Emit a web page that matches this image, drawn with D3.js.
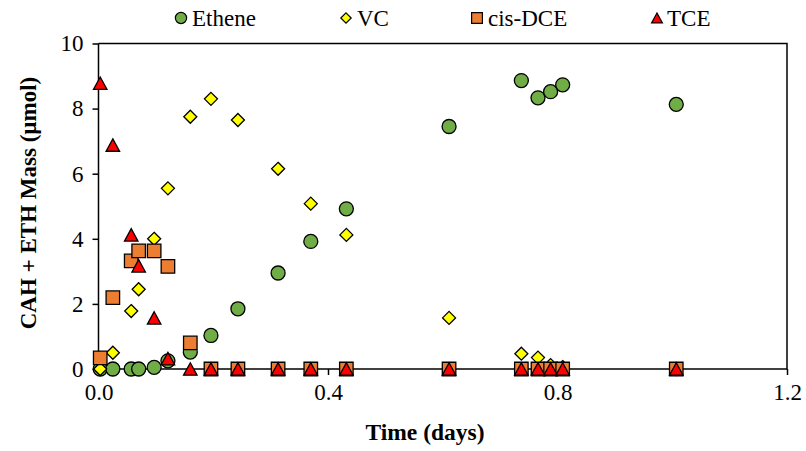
<!DOCTYPE html>
<html>
<head>
<meta charset="utf-8">
<script src="https://cdn.jsdelivr.net/npm/d3@7"></script>
<style>
  html, body { margin: 0; padding: 0; background: #fff; }
  svg { display: block; }
  text { font-family: "Liberation Serif", "Times New Roman", serif; fill: #000; }
</style>
</head>
<body>
<svg id="chart" width="806" height="451"></svg>
<script>
// ---- Data ----
const time   = [0.003, 0.025, 0.057, 0.070, 0.097, 0.121, 0.160, 0.196, 0.243, 0.313, 0.370, 0.432, 0.611, 0.737, 0.766, 0.788, 0.809, 1.007];
const ethene = [0.00, 0.00, 0.00, 0.00, 0.05, 0.25, 0.52, 1.03, 1.85, 2.95, 3.92, 4.92, 7.45, 8.86, 8.33, 8.52, 8.73, 8.13];
const vc     = [0.00, 0.50, 1.78, 2.45, 4.00, 5.55, 7.75, 8.30, 7.65, 6.15, 5.08, 4.12, 1.57, 0.47, 0.35, 0.12, 0.06, 0.00];
const cisDCE = [0.34, 2.19, 3.32, 3.63, 3.63, 3.15, 0.80, 0.00, 0.00, 0.00, 0.00, 0.00, 0.00, 0.00, 0.00, 0.00, 0.00, 0.00];
const tce    = [8.78, 6.88, 4.12, 3.17, 1.57, 0.32, 0.00, 0.00, 0.00, 0.00, 0.00, 0.00, 0.00, 0.00, 0.00, 0.00, 0.00, 0.00];
const seriesNames = ["Ethene", "VC", "cis-DCE", "TCE"];
const xTicks = [0, 0.4, 0.8, 1.2];
const yTicks = [0, 2, 4, 6, 8, 10];

// ---- Layout ----
const svg = d3.select("#chart");
const x = d3.scaleLinear().domain([0, 1.2]).range([98.5, 787]);
const y = d3.scaleLinear().domain([0, 10]).range([369, 43.5]);
const FONT = "Liberation Serif, Times New Roman, serif";

// marker shape paths centered at 0,0
const shapes = {
  circle: s => `M${s/2},0A${s/2},${s/2} 0 1,1 ${-s/2},0A${s/2},${s/2} 0 1,1 ${s/2},0Z`,
  square: s => `M${-s/2},${-s/2}H${s/2}V${s/2}H${-s/2}Z`,
  diamond: s => `M0,${-s/2}L${s/2},0L0,${s/2}L${-s/2},0Z`,
  triangle: s => `M0,${-s*0.46}L${s/2},${s*0.46}L${-s/2},${s*0.46}Z`
};
const series = [
  { name: seriesNames[0], values: ethene, shape: "circle",   size: 14,   fill: "#70AD47" },
  { name: seriesNames[1], values: vc,     shape: "diamond",  size: 13,   fill: "#FFFF00" },
  { name: seriesNames[2], values: cisDCE, shape: "square",   size: 13.5, fill: "#ED7D31" },
  { name: seriesNames[3], values: tce,    shape: "triangle", size: 13.5, fill: "#FF0000" }
];

// ---- Frame ----
svg.append("path")
  .attr("d", `M${x(0)},${y(10)}H${x(1.2)}V${y(0)}`)
  .attr("fill", "none").attr("stroke", "#000").attr("stroke-width", 1.5);

// ---- Axes ----
const yAxis = d3.axisLeft(y).tickValues(yTicks).tickSize(6).tickPadding(9).tickFormat(d3.format("d"));
const gy = svg.append("g").attr("transform", `translate(${x(0)},0)`).call(yAxis);
const xAxis = d3.axisBottom(x).tickValues(xTicks).tickSize(6).tickPadding(9).tickFormat(d3.format(".1f"));
const gx = svg.append("g").attr("transform", `translate(0,${y(0)})`).call(xAxis);
[gx, gy].forEach(g => {
  g.attr("font-family", FONT).attr("font-size", 23);
  g.select(".domain").attr("stroke", "#000").attr("stroke-width", 1.5);
  g.selectAll(".tick line").attr("stroke", "#000").attr("stroke-width", 1.5);
  g.selectAll(".tick text").attr("font-family", FONT).attr("font-size", 23).attr("fill", "#000");
});
gx.select(".domain").attr("d", `M${x(0)},0H${x(1.2)}`);
gy.select(".domain").attr("d", `M0,${y(0)}V${y(10)}`);

// ---- Axis titles ----
svg.append("text")
  .attr("x", 425).attr("y", 440)
  .attr("text-anchor", "middle").attr("font-weight", "bold").attr("font-size", 23.5)
  .attr("font-family", FONT)
  .text("Time (days)");
svg.append("text")
  .attr("transform", "translate(36,203) rotate(-90)")
  .attr("text-anchor", "middle").attr("font-weight", "bold").attr("font-size", 23)
  .attr("font-family", FONT)
  .text("CAH + ETH Mass (µmol)");

// ---- Markers ----
series.forEach(s => {
  svg.append("g").selectAll("path")
    .data(time.map((t, i) => ({ t, v: s.values[i] })))
    .join("path")
    .attr("transform", d => `translate(${x(d.t)},${y(d.v)})`)
    .attr("d", shapes[s.shape](s.size))
    .attr("fill", s.fill).attr("stroke", "#000").attr("stroke-width", 1.3);
});

// ---- Legend ----
const legendPos = [
  { mx: 181, tx: 192 },
  { mx: 346, tx: 357 },
  { mx: 477, tx: 488 },
  { mx: 657, tx: 667 }
];
series.forEach((s, i) => {
  const g = svg.append("g");
  g.append("path")
    .attr("transform", `translate(${legendPos[i].mx},18)`)
    .attr("d", shapes[s.shape](s.size * 0.8))
    .attr("fill", s.fill).attr("stroke", "#000").attr("stroke-width", 1.2);
  g.append("text")
    .attr("x", legendPos[i].tx).attr("y", 26)
    .attr("font-size", 23).attr("font-family", FONT)
    .text(s.name);
});
</script>
</body>
</html>
